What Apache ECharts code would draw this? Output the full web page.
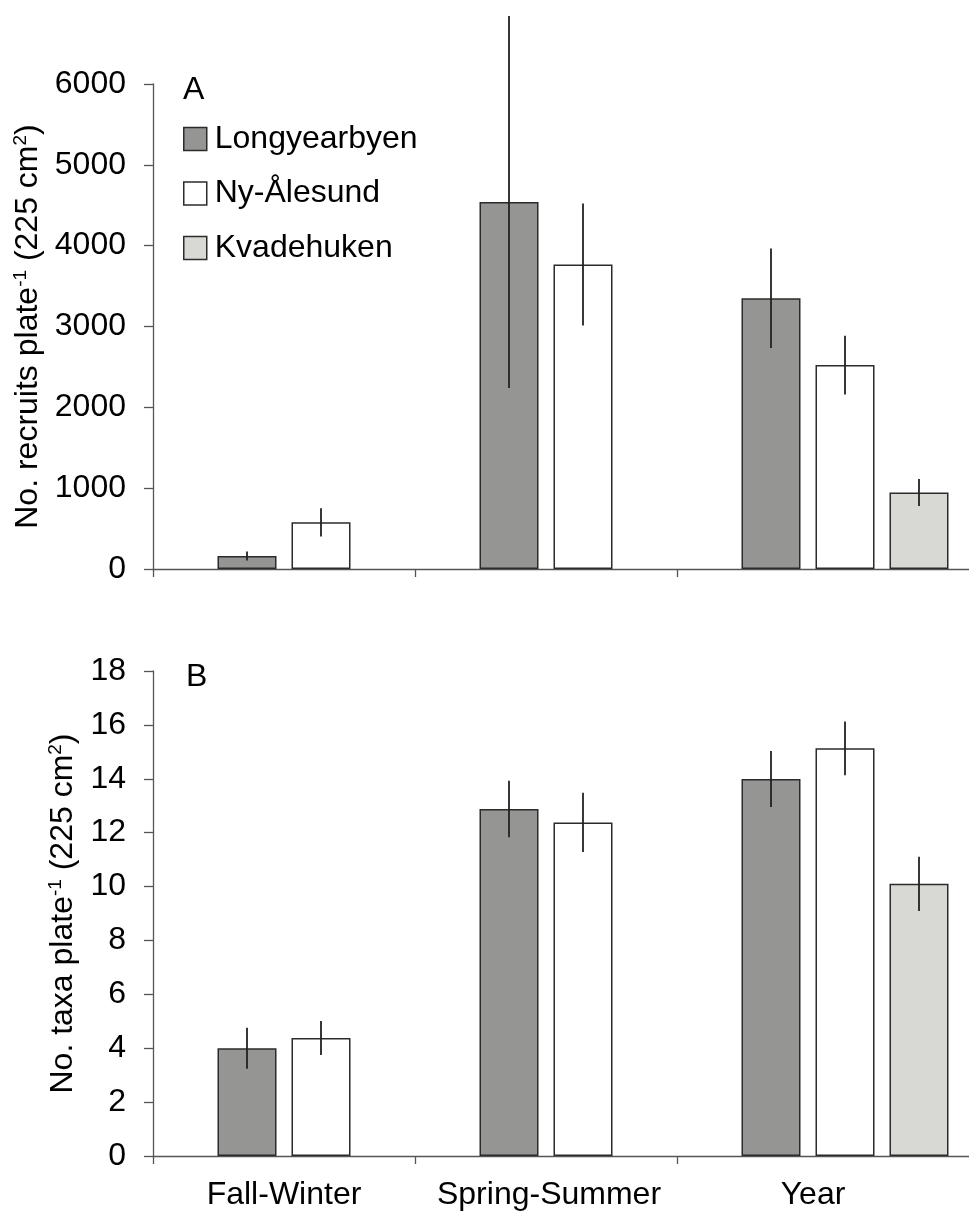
<!DOCTYPE html>
<html>
<head>
<meta charset="utf-8">
<script src="https://cdn.jsdelivr.net/npm/echarts@6/dist/echarts.min.js"></script>
<style>
html,body{margin:0;padding:0;background:#fff;overflow:hidden;width:969px;height:1211px;}
#chart{width:1210px;height:1211px;}
</style>
</head>
<body>
<div id="chart"></div>
<script>
// ---- data ----
const categories = ['Fall-Winter', 'Spring-Summer', 'Year'];
const sites = ['Longyearbyen', 'Ny-Ålesund', 'Kvadehuken'];

const recruitsLongyearbyen   = [160, 4540, 3350];
const recruitsLongyearbyenSE = [55, 2300, 615];
const recruitsNyAlesund      = [578, 3768, 2523];
const recruitsNyAlesundSE    = [175, 755, 363];
const recruitsKvadehuken     = [null, null, 946];
const recruitsKvadehukenSE   = [null, null, 166];

const taxaLongyearbyen   = [4.0, 12.88, 13.99];
const taxaLongyearbyenSE = [0.76, 1.05, 1.04];
const taxaNyAlesund      = [4.38, 12.38, 15.13];
const taxaNyAlesundSE    = [0.63, 1.1, 1.0];
const taxaKvadehuken     = [null, null, 10.1];
const taxaKvadehukenSE   = [null, null, 1.01];

const recruitsTicks = [0, 1000, 2000, 3000, 4000, 5000, 6000];
const taxaTicks = [0, 2, 4, 6, 8, 10, 12, 14, 16, 18];

// ---- styles ----
const FONT = "'Liberation Sans', Arial, sans-serif";
const FS = 32;
const BAR_W = 59;
const BAR_GAP = 15;
const colors = ['#959593', '#ffffff', '#d8d9d4'];
const BORDER = '#2b2b2b';
const AXIS_COLOR = '#555';
const labelShift = [0, 6, 10]; // left padding of category labels (px)

const recruitsMeans = [recruitsLongyearbyen, recruitsNyAlesund, recruitsKvadehuken];
const recruitsSEs = [recruitsLongyearbyenSE, recruitsNyAlesundSE, recruitsKvadehukenSE];
const taxaMeans = [taxaLongyearbyen, taxaNyAlesund, taxaKvadehuken];
const taxaSEs = [taxaLongyearbyenSE, taxaNyAlesundSE, taxaKvadehukenSE];

const GRID_LEFT = 153, BAND = 262, PLOT_H = 485;

function toData(arr) { return arr.map(v => (v == null ? '-' : v)); }

function axisName(main) {
  return '{n|' + main + '}{s|-1}{n| (225 cm}{s|2}{n|)}';
}
const nameRich = {
  n: { fontSize: FS, fontFamily: FONT, color: '#000', lineHeight: 34 },
  s: { fontSize: 19, fontFamily: FONT, color: '#000', lineHeight: 14, verticalAlign: 'top' }
};

function xAxisFor(gridIndex, showLabels) {
  return {
    type: 'category', gridIndex: gridIndex,
    data: categories.map((c, i) => ({ value: c, textStyle: { padding: [0, 0, 0, labelShift[i]] } })),
    max: categories.length,
    axisLine: { show: true, lineStyle: { color: AXIS_COLOR, width: 1.3 } },
    axisTick: { show: true, length: 8, interval: (i) => i < categories.length, lineStyle: { color: AXIS_COLOR, width: 1.3 } },
    axisLabel: { show: showLabels, interval: (i) => i < categories.length, fontSize: FS, fontFamily: FONT, color: '#000', margin: 23,
                 formatter: (v) => (v == null ? '' : v) },
    splitLine: { show: false }
  };
}
function yAxisFor(gridIndex, ticks, name, gap) {
  return {
    type: 'value', gridIndex: gridIndex,
    min: ticks[0], max: ticks[ticks.length - 1], interval: ticks[1] - ticks[0],
    axisLine: { show: true, lineStyle: { color: AXIS_COLOR, width: 1.3 } },
    axisTick: { show: true, length: 9, lineStyle: { color: AXIS_COLOR, width: 1.3 } },
    axisLabel: { fontSize: FS, fontFamily: FONT, color: '#000', margin: 27, formatter: (v) => String(v) },
    splitLine: { show: false },
    name: name, nameLocation: 'middle', nameRotate: 90, nameGap: gap,
    nameTextStyle: { rich: nameRich }
  };
}

const series = [];
function addPanel(idx, means, ses) {
  // spacer series keeps the group position of the original layout
  series.push({ type: 'bar', name: '_spacer' + idx, xAxisIndex: idx, yAxisIndex: idx,
    barWidth: BAR_W, barGap: (BAR_GAP / BAR_W * 100) + '%', data: [], silent: true });
  for (let s = 0; s < sites.length; s++) {
    series.push({
      type: 'bar', name: sites[s], xAxisIndex: idx, yAxisIndex: idx,
      barWidth: BAR_W, barGap: (BAR_GAP / BAR_W * 100) + '%',
      data: toData(means[s]),
      itemStyle: { color: colors[s], borderColor: BORDER, borderWidth: 1.5 }
    });
  }
  for (let s = 0; s < sites.length; s++) {
    const slot = s + 1; // position within group of 4
    const offset = (slot - 1.5) * (BAR_W + BAR_GAP);
    const d = [];
    means[s].forEach((m, i) => { if (m != null) d.push([i, m, ses[s][i]]); });
    series.push({
      type: 'custom', xAxisIndex: idx, yAxisIndex: idx, clip: false, z: 5,
      data: d,
      renderItem: function (params, api) {
        const ci = api.value(0), m = api.value(1), se = api.value(2);
        const x = api.coord([ci, 0])[0] + offset;
        const y1 = api.coord([ci, m + se])[1];
        const y2 = api.coord([ci, m - se])[1];
        return { type: 'line', shape: { x1: x, y1: y1, x2: x, y2: y2 },
                 style: { stroke: '#222', lineWidth: 1.8 } };
      }
    });
  }
}
addPanel(0, recruitsMeans, recruitsSEs);
addPanel(1, taxaMeans, taxaSEs);

const option = {
  animation: false,
  backgroundColor: '#fff',
  textStyle: { fontFamily: FONT },
  title: [
    { text: 'A', left: 183, top: 74, padding: 0, textStyle: { fontSize: FS, fontWeight: 'normal', color: '#000', fontFamily: FONT } },
    { text: 'B', left: 186, top: 661, padding: 0, textStyle: { fontSize: FS, fontWeight: 'normal', color: '#000', fontFamily: FONT } }
  ],
  legend: {
    data: sites, orient: 'vertical', left: 183, top: 122, padding: 0,
    itemWidth: 23, itemHeight: 23, itemGap: 20.5, icon: 'rect',
    itemStyle: { borderColor: BORDER, borderWidth: 1.5 },
    textStyle: { fontSize: FS, fontFamily: FONT, color: '#000', lineHeight: 34, padding: [0, 0, 0, 3] },
    selectedMode: false
  },
  grid: [
    { left: GRID_LEFT, top: 84, width: BAND * (categories.length + 1), height: PLOT_H },
    { left: GRID_LEFT, top: 671, width: BAND * (categories.length + 1), height: PLOT_H }
  ],
  xAxis: [xAxisFor(0, false), xAxisFor(1, true)],
  yAxis: [
    yAxisFor(0, recruitsTicks, axisName('No. recruits plate'), 102),
    yAxisFor(1, taxaTicks, axisName('No. taxa plate'), 70)
  ],
  series: series
};

const chart = echarts.init(document.getElementById('chart'), null, { renderer: 'canvas' });
chart.setOption(option);
</script>
</body>
</html>
